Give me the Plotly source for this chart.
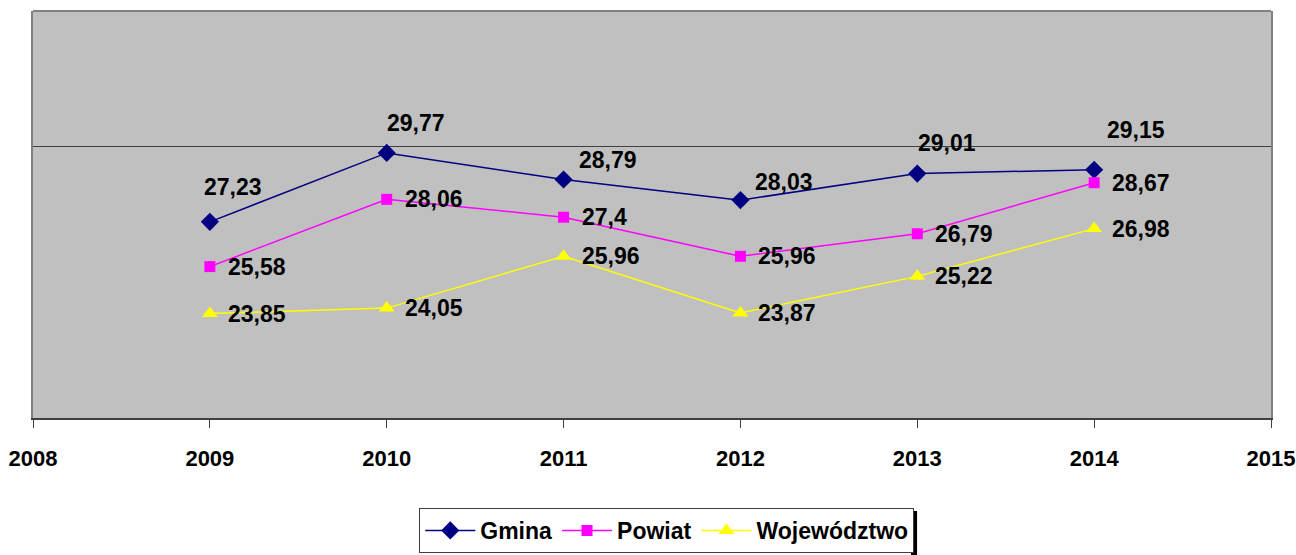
import plotly.graph_objects as go

years = [2009, 2010, 2011, 2012, 2013, 2014]
gmina = [27.23, 29.77, 28.79, 28.03, 29.01, 29.15]
powiat = [25.58, 28.06, 27.4, 25.96, 26.79, 28.67]
wojewodztwo = [23.85, 24.05, 25.96, 23.87, 25.22, 26.98]

# label offsets (px) of the label's left edge / vertical centre from each point
gmina_off = [(-8, 35), (-2, 30), (13, 20), (13, 18), (-1, 31), (11, 40)]
right_off = [(16, 0)] * 6

FONT = "Liberation Sans, Arial"
label_font = dict(family=FONT, size=23, color="black")


def fmt(v):
    return f"{v:g}".replace(".", ",")


fig = go.Figure()
series = [
    ("Gmina", gmina, "#000080", "diamond", 14, gmina_off),
    ("Powiat", powiat, "#FF00FF", "square", 11, right_off),
    ("Województwo", wojewodztwo, "#FFFF00", "triangle-up", 14, right_off),
]
for name, vals, color, sym, size, offs in series:
    fig.add_trace(go.Scatter(
        x=years, y=vals, mode="lines+markers", name=f"<b>{name}</b>",
        line=dict(color=color, width=1.5),
        marker=dict(symbol=sym, size=size, color=color),
    ))
    for x, v, (dx, dy) in zip(years, vals, offs):
        fig.add_annotation(x=x, y=v, text=f"<b>{fmt(v)}</b>", showarrow=False,
                           xanchor="left", xshift=dx, yshift=dy, font=label_font)

# top border of the plot area
fig.add_shape(type="line", xref="paper", yref="paper", x0=0, x1=1, y0=1, y1=1,
              line=dict(color="#808080", width=2))
# legend drop shadow (right edge)
fig.add_shape(type="rect", xref="paper", yref="paper", x0=0.7092, x1=0.7141,
              y0=-0.34, y1=-0.2285, line=dict(width=0), fillcolor="black")

fig.update_layout(
    width=1296, height=555,
    margin=dict(l=33, r=25, t=11, b=137, autoexpand=False),
    paper_bgcolor="white", plot_bgcolor="#C0C0C0",
    showlegend=True,
    legend=dict(orientation="h", x=0.312, xanchor="left", y=-0.221, yanchor="top",
                bordercolor="#404040", borderwidth=1, bgcolor="white",
                font=dict(family=FONT, size=23, color="black"),
                itemwidth=50, tracegroupgap=0),
    font=dict(family=FONT, color="black"),
)
fig.update_xaxes(range=[2008, 2015], showgrid=False, automargin=False,
                 showline=True, linecolor="#404040", linewidth=2,
                 ticks="outside", ticklen=8, tickcolor="#404040",
                 tickfont=dict(size=22), ticklabelstandoff=12,
                 ticklabeloverflow="allow",
                 tickvals=list(range(2008, 2016)),
                 ticktext=[f"<b>{y}</b>" for y in range(2008, 2016)],
                 zeroline=False)
fig.update_yaxes(range=[20, 35], dtick=10, tick0=20, showticklabels=False,
                 showgrid=True, gridcolor="#404040", gridwidth=1, automargin=False,
                 showline=True, linecolor="#808080", linewidth=2, mirror=True,
                 zeroline=False, ticks="")

# drop the browser's default 8px body margin so the figure fills the window
fig.write_html("out.html", config={"displayModeBar": False},
               post_script="document.body.style.margin='0';"
                           "document.body.style.overflow='hidden';")
